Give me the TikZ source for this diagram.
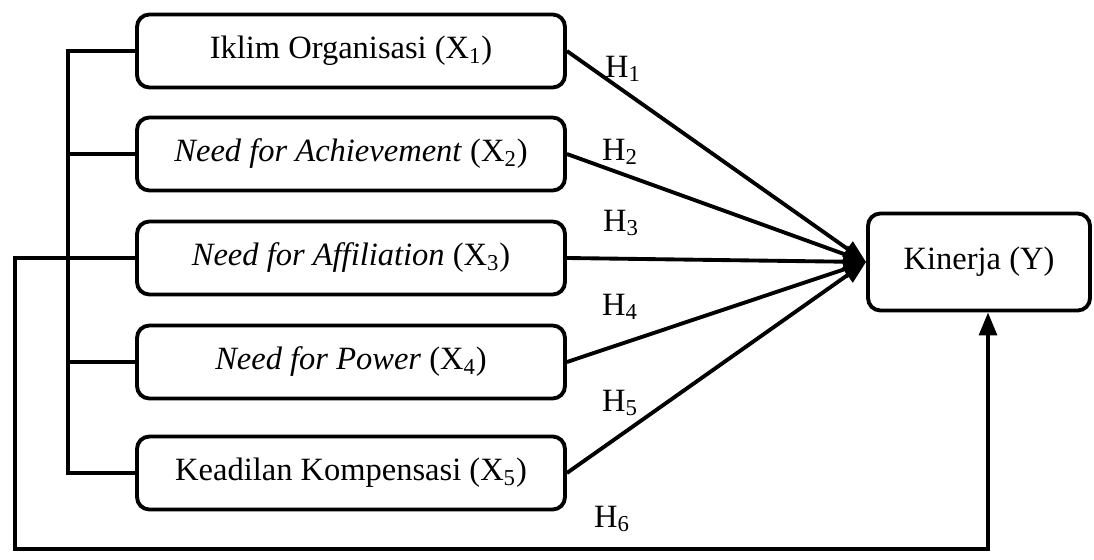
\documentclass[tikz,border=0pt]{standalone}
\usepackage{fontspec}
\setmainfont{Liberation Serif}
\usetikzlibrary{arrows.meta}
\begin{document}
\begin{tikzpicture}[x=0.02cm, y=-0.02cm, line width=2.2pt,
    every node/.style={font=\fontsize{18.5}{22}\selectfont},
    kotak/.style={draw, rounded corners=7pt, minimum width=8.56cm, minimum height=1.46cm},
    panah/.style={-{Triangle[length=13pt, width=10pt]}}]
        \useasboundingbox (0,0) rectangle (1094,560);
        % Variabel bebas
        \node[kotak] (x1) at (351, 51) {Iklim Organisasi (X\textsubscript{1})};
        \node[kotak] (x2) at (351, 154) {\textit{Need for Achievement} (X\textsubscript{2})};
        \node[kotak] (x3) at (351, 258) {\textit{Need for Affiliation} (X\textsubscript{3})};
        \node[kotak] (x4) at (351, 362) {\textit{Need for Power} (X\textsubscript{4})};
        \node[kotak] (x5) at (351, 473) {Keadilan Kompensasi (X\textsubscript{5})};
        % Variabel terikat
        \node[kotak, minimum width=4.44cm, minimum height=1.94cm] (y) at (979, 262) {Kinerja (Y)};

        % Garis hipotesis H1--H5
        \draw[panah] (x1.east) -- (y.west);
        \draw[panah] (x2.east) -- (y.west);
        \draw[panah] (x3.east) -- (y.west);
        \draw[panah] (x4.east) -- (y.west);
        \draw[panah] (x5.east) -- (y.west);

        % Label hipotesis
        \node (h1) at (623, 69) {H\textsubscript{1}};
        \node (h2) at (620, 152) {H\textsubscript{2}};
        \node (h3) at (621, 223) {H\textsubscript{3}};
        \node (h4) at (620, 307) {H\textsubscript{4}};
        \node (h5) at (620, 403) {H\textsubscript{5}};
        \node (h6) at (612, 519) {H\textsubscript{6}};

        % Garis penghubung kiri (simultan)
        \draw (x1.west) -- ++(-67, 0) |- (x5.west);
        \draw (x2.west) -- ++(-67, 0);
        \draw (x3.west) -- ++(-67, 0);
        \draw (x4.west) -- ++(-67, 0);

        % Garis H6
        \coordinate (sudut) at (15, 549);
        \coordinate (bawah) at (988, 549);
        \draw[panah] (x3.west) -| (sudut) -- (bawah) -- (bawah |- y.south);
    \end{tikzpicture}
\end{document}
